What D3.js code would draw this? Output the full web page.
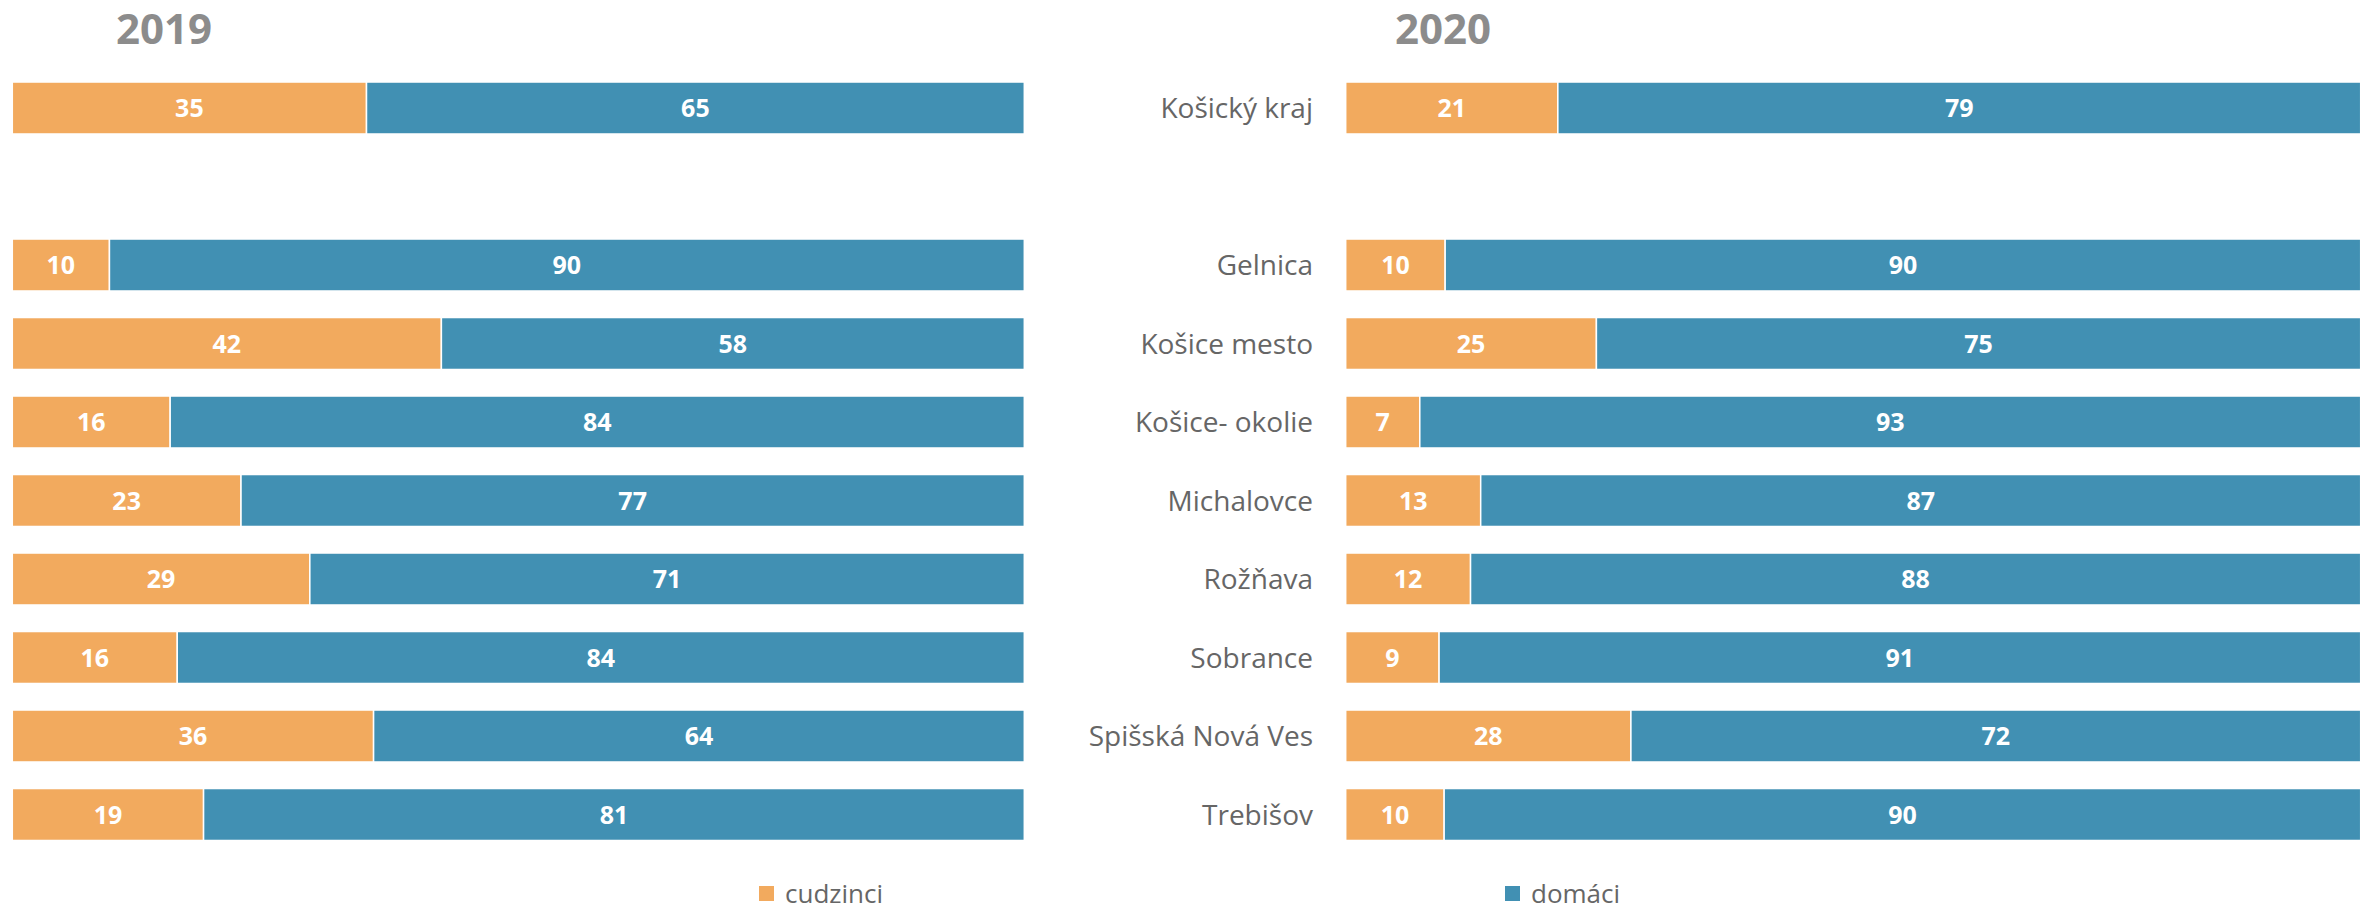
<!DOCTYPE html>
<html>
<head>
<meta charset="utf-8">
<script src="https://cdn.jsdelivr.net/npm/d3@7"></script>
<style>
  html, body { margin: 0; padding: 0; background: #fff; }
  svg { display: block; }
</style>
</head>
<body>
<svg id="chart" width="2371" height="911"></svg>
<script>
// ---- data ----
const categories = ["Košický kraj", "", "Gelnica", "Košice mesto", "Košice- okolie", "Michalovce", "Rožňava", "Sobrance", "Spišská Nová Ves", "Trebišov"];
const seriesNames = ["cudzinci", "domáci"];
const years = ["2019", "2020"];
const cudzinci2019 = [35.0, null, 9.6, 42.4, 15.6, 22.6, 29.4, 16.3, 35.7, 18.9];
const domaci2019   = [65.0, null, 90.4, 57.6, 84.4, 77.4, 70.6, 83.7, 64.3, 81.1];
const cudzinci2020 = [20.9, null, 9.8, 24.7, 7.3, 13.3, 12.3, 9.2, 28.1, 9.7];
const domaci2020   = [79.1, null, 90.2, 75.3, 92.7, 86.7, 87.7, 90.8, 71.9, 90.3];

// ---- styles ----
const colors = { "cudzinci": "#F2AA5E", "domáci": "#4190B3" };
const textGrey = "#666666";
const titleGrey = "#8c8c8c";
const font = "'Open Sans', 'DejaVu Sans', sans-serif";

const svg = d3.select("#chart");

const y = d3.scaleBand()
  .domain(categories.map((c, i) => i))
  .range([68.75, 853.75])
  .paddingInner(0.338)
  .paddingOuter(0.169);

const panels = [
  { year: years[0], c: cudzinci2019, d: domaci2019, x0: 12.3, x1: 1024.3, titleX: 164, showLabels: false },
  { year: years[1], c: cudzinci2020, d: domaci2020, x0: 1345.7, x1: 2360.7, titleX: 1443, showLabels: true }
];

panels.forEach(p => {
  const x = d3.scaleLinear().domain([0, 100]).range([p.x0, p.x1]);
  const g = svg.append("g");

  // title
  g.append("text")
    .attr("x", p.titleX).attr("y", 44)
    .attr("text-anchor", "middle")
    .attr("font-family", font).attr("font-weight", 700)
    .attr("font-size", 42).attr("fill", titleGrey)
    .text(p.year);

  const rows = categories.map((cat, i) => ({ i, cat, c: p.c[i], d: p.d[i] }));

  rows.forEach(r => {
    if (r.c == null) return;
    const segs = [
      { name: seriesNames[0], start: 0, v: r.c },
      { name: seriesNames[1], start: r.c, v: r.d }
    ];
    const yy = y(r.i), h = y.bandwidth();
    segs.forEach(s => {
      g.append("rect")
        .attr("x", x(s.start)).attr("y", yy)
        .attr("width", x(s.start + s.v) - x(s.start)).attr("height", h)
        .attr("fill", colors[s.name])
        .attr("stroke", "#fff").attr("stroke-width", 1.5);
      g.append("text")
        .attr("x", (x(s.start) + x(s.start + s.v)) / 2)
        .attr("y", yy + h / 2)
        .attr("dy", "0.36em")
        .attr("text-anchor", "middle")
        .attr("font-family", font).attr("font-weight", 700)
        .attr("font-size", 25).attr("fill", "#fff")
        .text(d3.format(".0f")(s.v));
    });
  });

  if (p.showLabels) {
    const axis = d3.axisLeft(y).tickSize(0).tickPadding(0)
      .tickFormat(i => categories[i]);
    const ag = svg.append("g").attr("transform", `translate(1313,0)`).call(axis);
    ag.select(".domain").remove();
    ag.selectAll("text")
      .attr("font-family", font).attr("font-size", 28)
      .attr("fill", textGrey).attr("dy", "0.36em");
  }
});

// legend
const legendPos = [759, 1505];
seriesNames.forEach((name, i) => {
  const lg = svg.append("g").attr("transform", `translate(${legendPos[i]},886)`);
  lg.append("rect").attr("width", 15).attr("height", 15).attr("fill", colors[name]);
  lg.append("text").attr("x", 26).attr("y", 7.5).attr("dy", "0.36em")
    .attr("font-family", font).attr("font-size", 26).attr("fill", textGrey)
    .text(name);
});
</script>
</body>
</html>
